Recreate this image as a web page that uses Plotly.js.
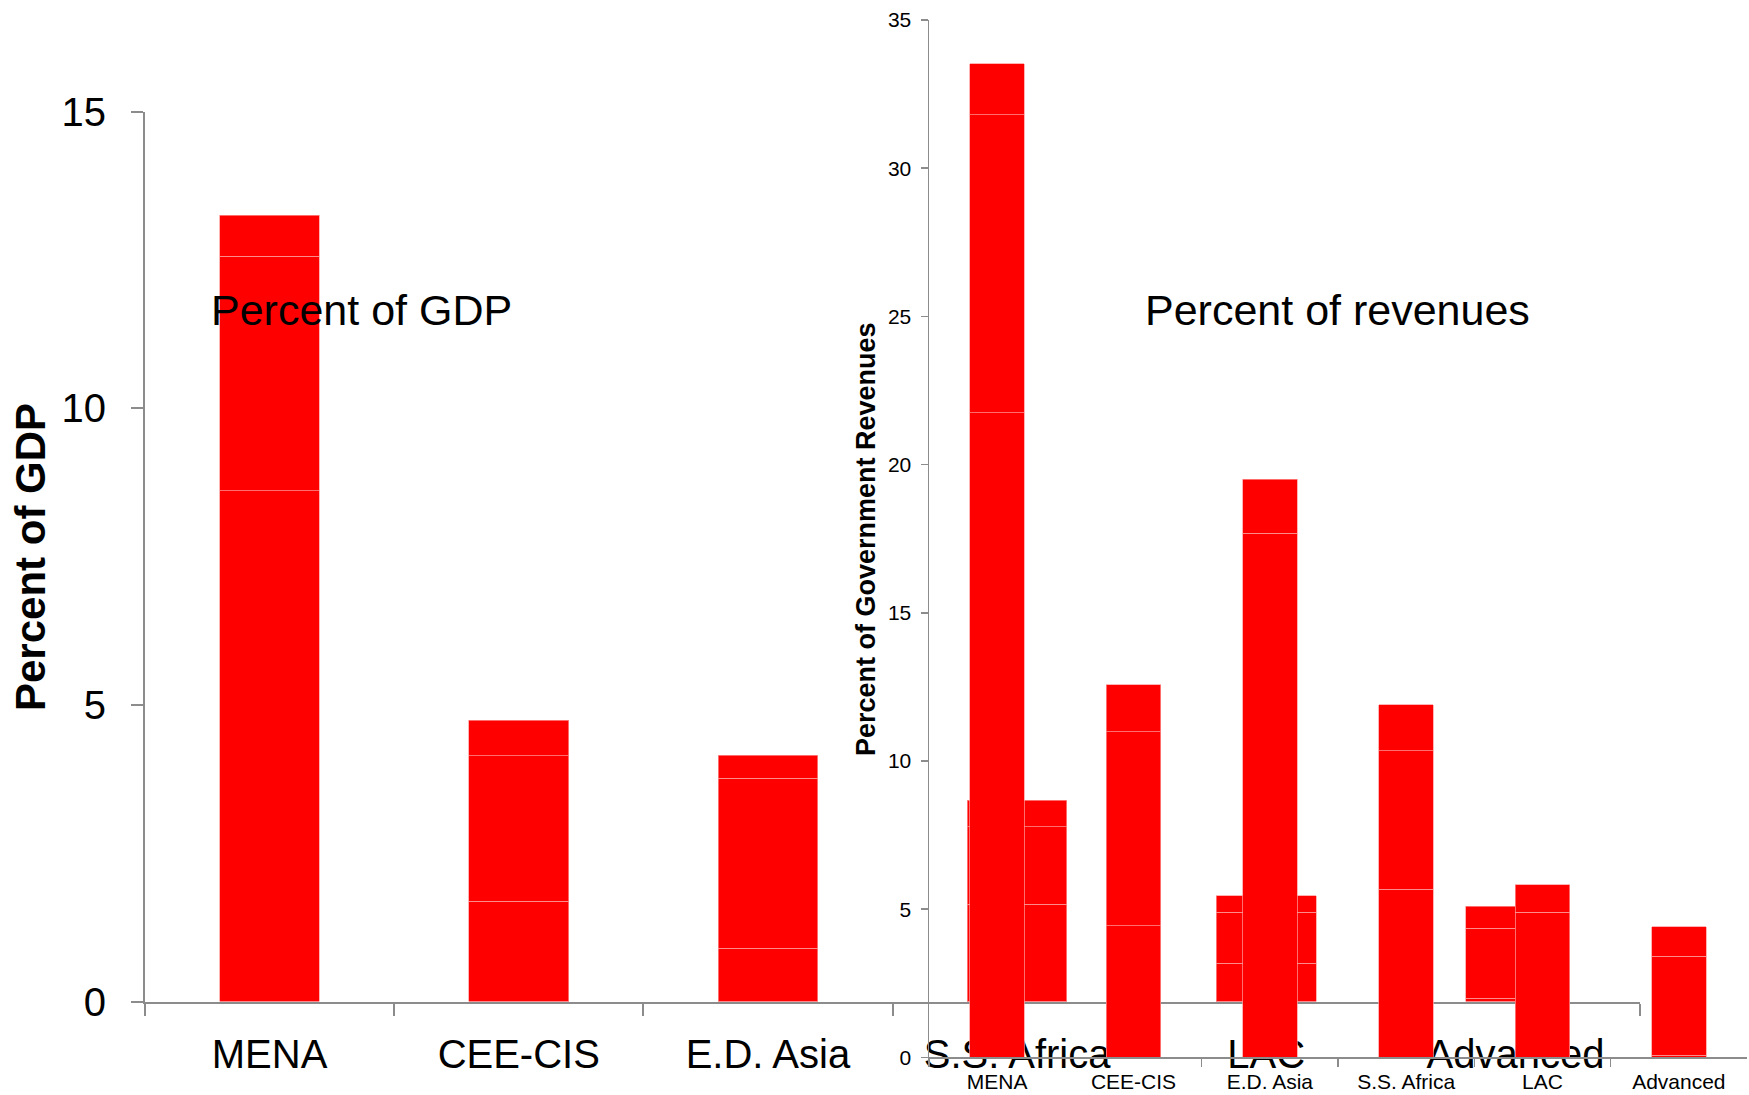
<!DOCTYPE html>
<html>
<head>
<meta charset="utf-8">
<script src="https://cdn.plot.ly/plotly-3.0.1.min.js"></script>
<style>html,body{margin:0;padding:0;background:#fff;}#chart{width:1749px;height:1095px;}</style>
</head>
<body>
<div id="chart"></div>
<script>
// Categories (same for both panels)
const categories = ['MENA', 'CEE-CIS', 'E.D. Asia', 'S.S. Africa', 'LAC', 'Advanced'];

// Left panel: percent of GDP, three stacked components
const gdpSeg1 = [8.61, 1.69, 0.90, 1.64, 0.65, 0.06];
const gdpSeg2 = [3.95, 2.45, 2.86, 1.31, 0.86, 1.18];
const gdpSeg3 = [0.69, 0.60, 0.39, 0.44, 0.27, 0.37];

// Right panel: percent of government revenues, three stacked components
const revSeg1 = [21.75, 4.44, 0.00, 5.68, 0.00, 0.08];
const revSeg2 = [10.05, 6.55, 17.69, 4.67, 4.90, 3.34];
const revSeg3 = [1.73, 1.58, 1.81, 1.54, 0.92, 0.98];

// Tick values
const gdpTicks = [0, 5, 10, 15];
const revTicks = [0, 5, 10, 15, 20, 25, 30, 35];

const FONT = 'Liberation Sans, Arial, sans-serif';
const RED = '#ff0000';
const EDGE = 'rgba(255,150,150,0.9)';
const AXIS = '#8c8c8c';

function seg(vals, xa, ya) {
  return {
    type: 'bar', x: categories, y: vals, xaxis: xa, yaxis: ya,
    width: 0.4,
    marker: {color: RED, line: {color: EDGE, width: 0.8}},
    hoverinfo: 'x+y', showlegend: false
  };
}

const data = [
  seg(gdpSeg1, 'x', 'y'), seg(gdpSeg2, 'x', 'y'), seg(gdpSeg3, 'x', 'y'),
  seg(revSeg1, 'x2', 'y2'), seg(revSeg2, 'x2', 'y2'), seg(revSeg3, 'x2', 'y2')
];

const W = 1749, H = 1095;
const layout = {
  width: W, height: H, autosize: false,
  margin: {l: 0, r: 0, t: 0, b: 0, pad: 0},
  paper_bgcolor: '#fff', plot_bgcolor: 'rgba(0,0,0,0)',
  barmode: 'stack', showlegend: false,
  font: {family: FONT, color: '#000'},
  xaxis: {
    domain: [145 / W, 1640 / W], anchor: 'y',
    type: 'category', range: [-0.5, 5.5], fixedrange: true,
    showline: true, linecolor: AXIS, linewidth: 2,
    ticks: 'outside', tickson: 'boundaries', ticklen: 12, tickwidth: 2, tickcolor: AXIS,
    tickfont: {size: 40, family: FONT, color: '#000'},
    ticklabelstandoff: 16,
    showgrid: false, zeroline: false
  },
  yaxis: {
    domain: [(H - 1001.6) / H, (H - 111.5) / H], anchor: 'x',
    range: [0, 15], tickvals: gdpTicks, fixedrange: true,
    showline: true, linecolor: AXIS, linewidth: 2,
    ticks: 'outside', ticklen: 12, tickwidth: 2, tickcolor: AXIS,
    tickfont: {size: 40, family: FONT, color: '#000'},
    ticklabelstandoff: 17,
    showgrid: false, zeroline: false
  },
  xaxis2: {
    domain: [929 / W, 1747 / W], anchor: 'y2',
    type: 'category', range: [-0.5, 5.5], fixedrange: true,
    showline: true, linecolor: AXIS, linewidth: 1.5,
    ticks: 'outside', tickson: 'boundaries', ticklen: 8, tickwidth: 1.5, tickcolor: AXIS,
    tickfont: {size: 21, family: FONT, color: '#000'},
    ticklabelstandoff: 5,
    showgrid: false, zeroline: false
  },
  yaxis2: {
    domain: [(H - 1057.4) / H, (H - 20) / H], anchor: 'x2',
    range: [0, 35], tickvals: revTicks, fixedrange: true,
    showline: true, linecolor: AXIS, linewidth: 1.5,
    ticks: 'outside', ticklen: 7, tickwidth: 1.5, tickcolor: AXIS,
    tickfont: {size: 21, family: FONT, color: '#000'},
    ticklabelstandoff: 5,
    showgrid: false, zeroline: false
  },
  annotations: [
    {text: '<b>Percent of GDP</b>', xref: 'paper', yref: 'paper',
     x: 30 / W, y: (H - 557) / H, xanchor: 'center', yanchor: 'middle',
     textangle: -90, showarrow: false, font: {size: 42, family: FONT, color: '#000'}},
    {text: '<b>Percent of Government Revenues</b>', xref: 'paper', yref: 'paper',
     x: 866 / W, y: (H - 539) / H, xanchor: 'center', yanchor: 'middle',
     textangle: -90, showarrow: false, font: {size: 27, family: FONT, color: '#000'}},
    {text: 'Percent of GDP', xref: 'paper', yref: 'paper',
     x: 361 / W, y: (H - 310) / H, xanchor: 'center', yanchor: 'middle',
     showarrow: false, font: {size: 43, family: FONT, color: '#000'}},
    {text: 'Percent of revenues', xref: 'paper', yref: 'paper',
     x: 1337 / W, y: (H - 310) / H, xanchor: 'center', yanchor: 'middle',
     showarrow: false, font: {size: 43, family: FONT, color: '#000'}}
  ]
};

Plotly.newPlot('chart', data, layout, {displayModeBar: false, staticPlot: true});
</script>
</body>
</html>
